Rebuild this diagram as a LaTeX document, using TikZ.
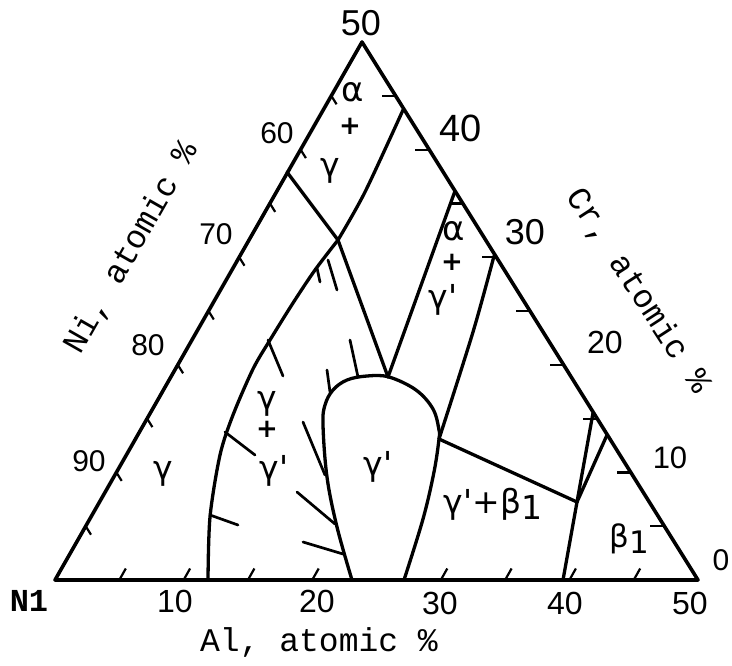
\documentclass[tikz,border=0pt]{standalone}
\usepackage{fontspec}
\setmainfont{Liberation Sans}
\newfontfamily\monofont{Liberation Mono}
\newfontfamily\grfont{DejaVu Sans}
\newcommand{\lowone}{\raisebox{-0.35ex}{1}}
\begin{document}
\begin{tikzpicture}[x=1pt,y=-1pt,
  edge/.style={line width=3.6pt,line join=round},
  bound/.style={line width=3.3pt,line cap=round,line join=round},
  tie/.style={line width=2.7pt,line cap=round},
  tck/.style={line width=2.2pt},
  num/.style={inner sep=0pt,font=\fontsize{#1}{#1}\selectfont},
  mono/.style={inner sep=0pt,font=\monofont\fontsize{33}{33}\selectfont},
  grk/.style={inner sep=0pt,font=\grfont\fontsize{#1}{#1}\selectfont},
  pls/.style={inner sep=0pt,font=\grfont\bfseries\fontsize{26}{26}\selectfont}]
\useasboundingbox (0,0) rectangle (732,665);
% corners
\coordinate (Ni) at (55,580);
\coordinate (R) at (698,580);
\coordinate (A) at (362,42);
\draw[edge] (Ni) -- (R) -- (A) -- cycle;
% ticks
\foreach \k in {1,2,3,4,6,7,8,9}
  \draw[tck] ({55+64.3*\k},580) -- ++(6.5,-11.5);
\foreach \k in {1,...,9}
  \draw[tck] ({55+30.7*\k},{580-53.8*\k}) -- ++(5.3,8.5);
\foreach \k in {1,...,9}
  \draw[tck] ({698-33.6*\k},{580-53.8*\k}) -- ++(-14,0);
% key points
\coordinate (P1) at (338,240);
\coordinate (L1) at (287,172);
\coordinate (T1) at (403,110);
\coordinate (T2) at (455,191);
\coordinate (T3) at (494,256);
\coordinate (Q1) at (388,377);
\coordinate (Q2) at (439,439);
\coordinate (B1) at (577,502);
\coordinate (E1) at (593,413);
\coordinate (E2) at (607,435);
\coordinate (G0) at (208,580);
\coordinate (B0) at (563,580);
% boundaries
\draw[bound] (L1) -- (P1);
\draw[bound] plot[smooth] coordinates {(P1) (365,192) (T1)};
\draw[bound] (P1) -- (Q1);
\draw[bound] (Q1) -- (T2);
\draw[bound] plot[smooth] coordinates {(T3) (473,332) (Q2)};
\draw[bound] plot[smooth] coordinates {(G0) (210,517) (220,455) (233,415) (253,369) (270,340) (293,303) (315,270) (P1)};
% gamma' loop
\draw[bound] plot[smooth,tension=0.6] coordinates {(352,580) (337,527) (327,477) (323,425) (325,405) (333,390) (347,380) (367,376) (389,377) (416,390) (433,409) (439,430) (Q2) (434,472) (423,519) (404,580)};
\draw[bound] (Q2) -- (B1);
\draw[bound] (B0) -- (B1) -- (E1);
\draw[bound] (B1) -- (E2);
% tie lines
\draw[tie] (358,377) -- (350,340);
\draw[tie] (330,392) -- (327,370);
\draw[tie] (325,475) -- (303,422);
\draw[tie] (335,524) -- (297,492);
\draw[tie] (343,554) -- (303,542);
\draw[tie] (210,515) -- (238,525);
\draw[tie] (225,432) -- (255,455);
\draw[tie] (268,340) -- (283,376);
\draw[tie] (317,268) -- (320,282);
\draw[tie] (328,260) -- (337,290);
% numbers
\node[num=36] (n50t) at (361,23) {50};
\node[num=38] (r40) at (461,128) {40};
\node[num=36] (r30) at (525,232) {30};
\node[num=32] (r20) at (605,342) {20};
\node[num=31] (r10) at (670,458) {10};
\node[num=30] (r0) at (721,560) {0};
\node[num=30] (l60) at (277,133) {60};
\node[num=30] (l70) at (216,234) {70};
\node[num=30] (l80) at (148,345) {80};
\node[num=30] (l90) at (89,461) {90};
\node[num=32] (b10) at (175,601) {10};
\node[num=32] (b20) at (317,601) {20};
\node[num=32] (b30) at (440,603) {30};
\node[num=32] (b40) at (565,603) {40};
\node[num=32] (b50) at (690,603) {50};
\node[inner sep=0pt,font=\monofont\bfseries\fontsize{32}{32}\selectfont] (ni) at (29,601) {N1};
\node[mono] (allab) at (319,642) {Al, atomic \%};
\node[mono,rotate=60.3] (nilab) at (132,248) {Ni, atomic \%};
\node[mono,rotate=-57] (crlab) at (638,291) {Cr, atomic \%};
% phase labels
\node[grk=34] (a1) at (353,92) {α};
\node[pls] (p1) at (350,126) {+};
\node[grk=33] (g1) at (330,171) {γ};
\node[grk=34] (a2) at (454,231) {α};
\node[pls] (p2) at (452,262) {+};
\node[grk=33] (g2) at (443,300) {γ'};
\node[grk=33] (g3) at (163,474) {γ};
\node[grk=33] (g4) at (267,404) {γ};
\node[pls] (p4) at (267,429) {+};
\node[grk=33] (g5) at (274,471) {γ'};
\node[grk=33] (g6) at (378,467) {γ'};
\node[grk=33] (g7) at (493,504) {γ'+β\lowone};
\node[grk=31] (b7) at (629,539) {β\lowone};
\end{tikzpicture}
\end{document}
